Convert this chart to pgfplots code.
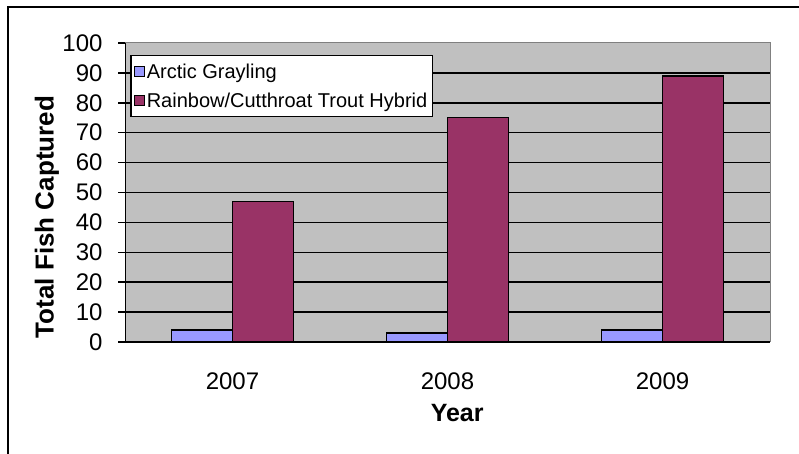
\documentclass[border=0pt]{standalone}
\usepackage{pgfplots}
\pgfplotsset{compat=1.18}
\usepackage{fontspec}
\setmainfont{Liberation Sans}
\definecolor{gbar}{HTML}{9999FF}
\definecolor{tbar}{HTML}{993366}
\definecolor{pbg}{HTML}{C0C0C0}
\pgfplotsset{sqlegend/.style={legend image code/.code={\draw[##1, line width=1pt] (0pt,-5pt) rectangle (10pt,5pt);}}}
\begin{document}
\begin{tikzpicture}
\useasboundingbox (0,0) rectangle (799pt,454pt);
\draw[line width=1.5pt] (8pt,0pt) -- (8pt,447pt) -- (799pt,447pt);
\begin{axis}[
  at={(125pt,112pt)}, anchor=south west,
  scale only axis, width=645pt, height=299pt,
  xmin=-0.5, xmax=2.5, ymin=0, ymax=100,
  ybar=0pt, bar width=61pt,
  axis background/.style={fill=pbg},
  axis line style={draw=gray, line width=1pt},
  xtick={0,1,2}, xticklabels={2007,2008,2009},
  xtick align=inside, x tick style={draw=none},
  ytick={0,10,...,90}, extra y ticks={100}, extra y tick style={grid=none},
  ytick align=outside, y tick style={black, line width=1.5pt},
  major tick length=7pt, tick pos=left,
  ymajorgrids, major grid style={black, line width=1.5pt},
  tick label style={font=\fontsize{24}{28}\selectfont},
  /pgf/number format/assume math mode=true,
  yticklabel style={xshift=-12pt},
  xticklabel style={yshift=-27pt},
  ylabel={Total Fish Captured},
  ylabel style={font=\fontsize{26}{30}\selectfont\bfseries, at={(axis description cs:-0.121,0.418)}, anchor=center},
  xlabel={Year},
  xlabel style={font=\fontsize{25}{28}\selectfont\bfseries, at={(axis description cs:0.515,-0.236)}, anchor=center},
  legend style={at={(axis description cs:0.0078,0.96)}, anchor=north west,
    draw=black, line width=1.5pt, fill=white,
    font=\fontsize{20}{22}\selectfont, inner xsep=3pt, inner ysep=6pt,
    row sep=9pt},
  legend cell align=left,
]
\addplot[fill=gbar, draw=black, line width=1.5pt, sqlegend]
  coordinates {(0,4) (1,3) (2,4)};
\addplot[fill=tbar, draw=black, line width=1.5pt, sqlegend]
  coordinates {(0,47) (1,75) (2,89)};
\legend{Arctic Grayling, Rainbow/Cutthroat Trout Hybrid}
\draw[black, line width=1.5pt] (rel axis cs:0,1) -- (rel axis cs:0,0) -- (rel axis cs:1,0);
\draw[black, line width=1.5pt] (axis cs:-0.5,0) -- ++(0pt,-8pt);
\draw[black, line width=1.5pt] (axis cs:0.5,0) -- ++(0pt,-8pt);
\draw[black, line width=1.5pt] (axis cs:1.5,0) -- ++(0pt,-8pt);
\draw[black, line width=1.5pt] (axis cs:2.5,0) -- ++(0pt,-8pt);
\end{axis}
\end{tikzpicture}
\end{document}
